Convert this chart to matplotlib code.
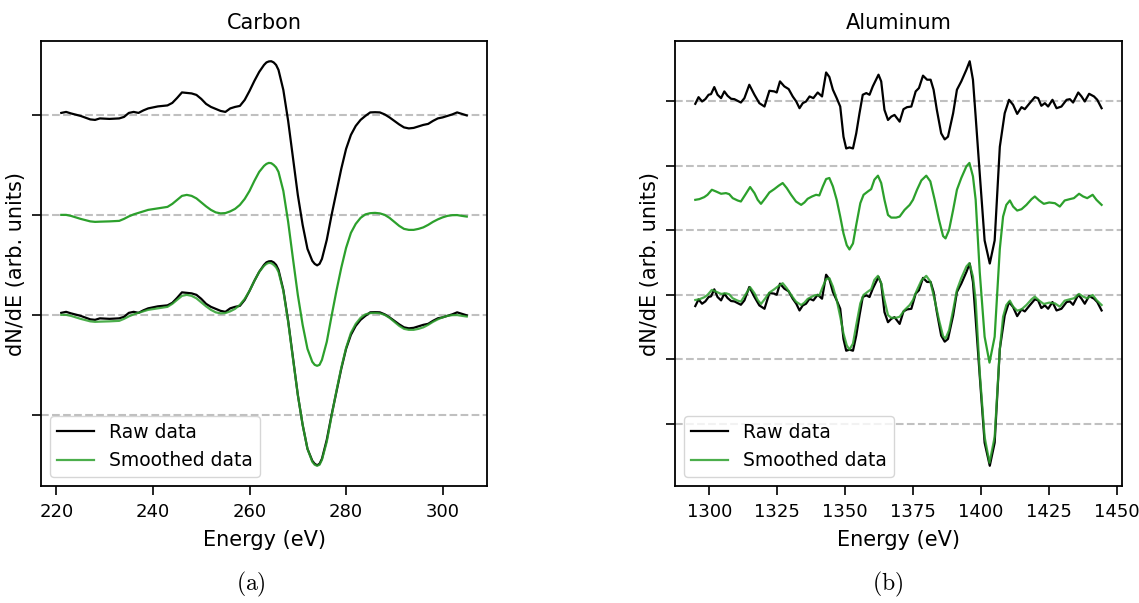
import matplotlib
matplotlib.use('Agg')
import matplotlib.pyplot as plt
from matplotlib.ticker import MultipleLocator

plt.rcParams['mathtext.fontset'] = 'cm'

# Carbon KLL spectrum (derivative)
c_energy = [221, 222, 223, 225, 227, 228, 229, 231, 233, 234, 235, 236, 237, 238, 239,
            241, 243, 244, 245, 246, 247, 248, 249, 250, 251, 252, 253, 254, 255, 256,
            257, 258, 259, 260, 261, 262, 263, 263.5, 264, 264.5, 265, 265.5, 266, 267,
            268, 269, 270, 271, 272, 273, 273.5, 274, 274.5, 275, 276, 277, 278, 279, 280,
            281, 282, 283, 284, 285, 286, 287, 288, 289, 290, 291, 292, 293, 294, 295, 296,
            297, 298, 299, 300, 301, 302, 303, 304, 305]
c_raw = [0.02, 0.03, 0.015, -0.01, -0.045, -0.05, -0.035, -0.04, -0.035, -0.02, 0.02, 0.03,
         0.02, 0.045, 0.065, 0.085, 0.095, 0.12, 0.17, 0.225, 0.22, 0.215, 0.2, 0.16, 0.11,
         0.08, 0.06, 0.04, 0.03, 0.065, 0.08, 0.09, 0.15, 0.24, 0.34, 0.43, 0.5, 0.525,
         0.535, 0.537, 0.525, 0.5, 0.45, 0.25, -0.06, -0.43, -0.8, -1.1, -1.34, -1.46,
         -1.49, -1.505, -1.49, -1.44, -1.25, -1.0, -0.77, -0.54, -0.34, -0.2, -0.11, -0.05,
         -0.01, 0.025, 0.027, 0.025, 0.005, -0.025, -0.06, -0.095, -0.125, -0.135, -0.13,
         -0.115, -0.1, -0.09, -0.06, -0.035, -0.025, -0.01, 0.005, 0.025, 0.01, -0.005]
c_smooth = [0.0, 0.0, -0.01, -0.04, -0.065, -0.07, -0.068, -0.065, -0.06, -0.04, -0.015,
            0.005, 0.02, 0.035, 0.05, 0.065, 0.08, 0.11, 0.15, 0.19, 0.2, 0.19, 0.165, 0.125,
            0.085, 0.05, 0.025, 0.015, 0.018, 0.035, 0.06, 0.1, 0.16, 0.24, 0.34, 0.43, 0.49,
            0.51, 0.52, 0.517, 0.5, 0.475, 0.43, 0.24, -0.07, -0.44, -0.8, -1.1, -1.34, -1.47,
            -1.5, -1.51, -1.5, -1.45, -1.27, -1.01, -0.76, -0.53, -0.33, -0.18, -0.09, -0.03,
            0.005, 0.017, 0.02, 0.015, 0.0, -0.03, -0.07, -0.11, -0.14, -0.15, -0.15, -0.14,
            -0.125, -0.1, -0.07, -0.045, -0.025, -0.01, -0.003, -0.002, -0.01, -0.017]
c_offsets = [0.0, 1.0, 2.0]

# Aluminum KLL spectrum
a_energy_raw = [1294.8, 1296.0, 1297.3, 1298.5, 1299.7, 1300.6, 1301.8, 1303.0, 1304.3,
                1305.5, 1306.7, 1308.0, 1309.2, 1310.4, 1311.6, 1312.9, 1314.7, 1316.6,
                1318.4, 1320.3, 1322.1, 1323.9, 1324.8, 1326.0, 1327.6, 1329.2, 1330.7,
                1332.0, 1333.2, 1334.4, 1335.6, 1336.9, 1338.3, 1339.9, 1341.5, 1343.0,
                1344.2, 1345.5, 1346.9, 1348.2, 1349.4, 1350.4, 1351.6, 1352.9, 1354.1,
                1355.3, 1356.5, 1357.8, 1359.0, 1360.2, 1362.3, 1363.3, 1364.5, 1365.8,
                1367.0, 1368.2, 1370.1, 1371.5, 1372.8, 1374.4, 1376.0, 1377.2, 1378.7,
                1380.2, 1381.5, 1382.6, 1383.8, 1385.4, 1386.7, 1387.9, 1389.8, 1391.2,
                1392.8, 1394.7, 1395.9, 1397.1, 1398.1, 1399.6, 1401.4, 1403.3, 1405.1,
                1407.0, 1408.8, 1410.4, 1411.9, 1413.4, 1415.0, 1416.2, 1418.0, 1419.9,
                1421.1, 1422.3, 1423.6, 1424.8, 1426.4, 1427.9, 1429.7, 1431.6, 1432.8,
                1434.0, 1435.9, 1437.1, 1438.3, 1439.9, 1441.7, 1442.9, 1444.5]
a_raw = [-0.175, -0.072, -0.139, -0.103, -0.035, -0.025, 0.084, -0.035, -0.087, 0.017,
         -0.051, -0.097, -0.103, -0.129, -0.155, -0.087, 0.12, -0.035, -0.165, -0.217,
         0.027, 0.017, 0.0, 0.172, 0.095, 0.053, -0.061, -0.139, -0.243, -0.165, -0.139,
         -0.061, -0.087, 0.0, -0.061, 0.31, 0.24, 0.043, -0.087, -0.217, -0.684, -0.866,
         -0.85, -0.866, -0.632, -0.321, -0.035, -0.009, -0.035, 0.095, 0.276, 0.172, -0.269,
         -0.425, -0.373, -0.347, -0.451, -0.258, -0.227, -0.217, 0.017, 0.069, 0.261, 0.198,
         0.198, 0.043, -0.269, -0.632, -0.726, -0.684, -0.321, 0.043, 0.172, 0.354, 0.484,
         0.198, -0.373, -1.255, -2.29, -2.647, -2.29, -0.84, -0.321, -0.113, -0.191, -0.331,
         -0.227, -0.258, -0.165, -0.071, -0.087, -0.206, -0.165, -0.217, -0.113, -0.243,
         -0.217, -0.113, -0.103, -0.155, 0.0, -0.061, -0.139, -0.02, -0.061, -0.113, -0.243]

a_energy_smooth = [1294.8, 1296.3, 1298.1, 1299.3, 1300.9, 1302.4, 1304.3, 1306.1, 1307.3,
                   1308.6, 1310.4, 1311.6, 1313.2, 1315.0, 1316.6, 1317.8, 1319.0, 1320.6,
                   1322.1, 1323.9, 1325.5, 1327.0, 1328.5, 1330.1, 1331.9, 1333.8, 1335.0,
                   1336.2, 1337.8, 1339.3, 1340.5, 1341.8, 1343.0, 1344.2, 1345.5, 1346.9,
                   1348.2, 1349.4, 1350.6, 1351.6, 1352.9, 1354.1, 1355.6, 1356.8, 1358.4,
                   1359.6, 1360.8, 1362.1, 1363.3, 1364.5, 1365.8, 1367.0, 1368.8, 1370.1,
                   1371.9, 1373.8, 1375.0, 1376.5, 1378.1, 1379.9, 1381.4, 1383.0, 1384.6,
                   1386.1, 1387.0, 1388.3, 1389.8, 1391.2, 1392.8, 1394.7, 1395.8, 1397.1,
                   1398.1, 1399.6, 1401.4, 1403.2, 1405.1, 1407.0, 1408.2, 1409.4, 1410.7,
                   1411.9, 1413.4, 1415.0, 1416.8, 1418.7, 1419.9, 1421.5, 1423.2, 1425.2,
                   1427.3, 1429.1, 1430.9, 1432.8, 1434.3, 1436.2, 1437.7, 1439.2, 1441.2,
                   1442.6, 1444.5]
a_smooth = [-0.081, -0.07, -0.039, -0.003, 0.075, 0.049, 0.013, 0.023, 0.007, -0.055,
            -0.091, -0.107, -0.003, 0.117, 0.023, -0.081, -0.143, -0.055, 0.033, 0.085,
            0.137, 0.179, 0.101, -0.003, -0.107, -0.159, -0.122, -0.065, -0.029, -0.003,
            -0.013, 0.127, 0.241, 0.257, 0.127, -0.081, -0.34, -0.6, -0.782, -0.849, -0.756,
            -0.47, -0.133, -0.003, 0.049, 0.085, 0.231, 0.293, 0.179, -0.081, -0.315, -0.356,
            -0.356, -0.34, -0.237, -0.159, -0.081, 0.075, 0.22, 0.293, 0.205, -0.081, -0.392,
            -0.642, -0.678, -0.548, -0.237, 0.075, 0.257, 0.438, 0.49, 0.283, -0.081, -1.2,
            -2.2, -2.6, -2.2, -0.84, -0.34, -0.159, -0.091, -0.185, -0.247, -0.226, -0.159,
            -0.07, -0.029, -0.091, -0.143, -0.122, -0.133, -0.185, -0.091, -0.07, -0.055,
            0.013, -0.029, -0.055, -0.003, -0.081, -0.159]
a_offsets = [0.0, 1.55, 3.13]

green = '#2ca02c'


def draw_panel(ax, e_raw, raw, e_sm, sm, offsets, title):
    top = [v + offsets[2] for v in raw]
    mid = [v + offsets[1] for v in sm]
    low_raw = [v + offsets[0] for v in raw]
    low_sm = [v + offsets[0] for v in sm]
    ax.plot(e_raw, top, color='k', lw=1.6)
    ax.plot(e_sm, mid, color=green, lw=1.6)
    ax.plot(e_raw, low_raw, color='k', lw=1.6, label='Raw data')
    ax.plot(e_sm, low_sm, color=green, lw=1.6, alpha=0.85, label='Smoothed data')
    ax.yaxis.set_major_locator(MultipleLocator(1))
    ax.set_yticklabels([])
    ax.yaxis.grid(True, linestyle='--', color='#c0c0c0', lw=1.5)
    ax.set_title(title, fontsize=15, pad=9)
    ax.set_xlabel('Energy (eV)', fontsize=15, labelpad=6)
    ax.set_ylabel('dN/dE (arb. units)', fontsize=15, labelpad=1)
    ax.tick_params(labelsize=13, width=1.2, length=6.5)
    ax.tick_params(axis='x', pad=6)
    for s in ax.spines.values():
        s.set_linewidth(1.3)
    ax.legend(loc='lower left', fontsize=13.5, handlelength=2, borderpad=0.35)


fig = plt.figure(figsize=(11.39, 6.03), dpi=100)
ax1 = fig.add_axes([0.036, 0.194, 0.3916, 0.738])
ax2 = fig.add_axes([0.5926, 0.194, 0.3924, 0.738])

draw_panel(ax1, c_energy, c_raw, c_energy, c_smooth, c_offsets, 'Carbon')
draw_panel(ax2, a_energy_raw, a_raw, a_energy_smooth, a_smooth, a_offsets, 'Aluminum')
ax1.set_xticks([220, 240, 260, 280, 300])
ax2.set_xticks([1300, 1325, 1350, 1375, 1400, 1425, 1450])

fig.text(0.22, 0.03, r'$\mathrm{(a)}$', fontsize=17, ha='center', va='center')
fig.text(0.779, 0.03, r'$\mathrm{(b)}$', fontsize=17, ha='center', va='center')

plt.savefig('out.png', dpi=100)
